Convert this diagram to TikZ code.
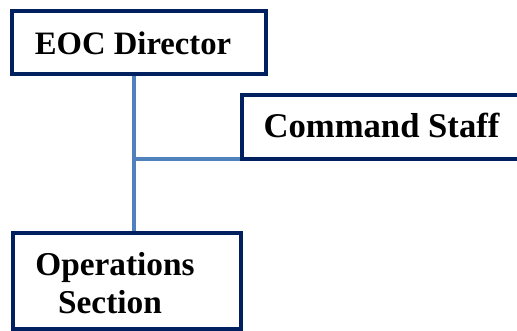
\documentclass[tikz,border=0pt]{standalone}
\usepackage{fontspec}
\setmainfont{Liberation Serif}
\usetikzlibrary{backgrounds}
\definecolor{navy}{RGB}{0,32,96}
\definecolor{linkblue}{RGB}{79,129,189}
\begin{document}
\begin{tikzpicture}[x=0.75pt,y=-0.75pt,
  box/.style={draw=navy, line width=3pt, fill=white, inner sep=0pt, outer sep=0pt},
  link/.style={draw=linkblue, line width=2.5pt},
  caption/.style={anchor=base, inner sep=0pt, text=black}]
\useasboundingbox (0,0) rectangle (517,331);
\clip (0,0) rectangle (517,331);

% boxes
\node[box, minimum width=190.5pt, minimum height=47.25pt] (eoc) at (139,42.5) {};
\node[box, minimum width=238.5pt, minimum height=48pt] (cmd) at (401,127) {};
\node[box, minimum width=171pt, minimum height=72pt] (ops) at (127,281) {};

% labels
\node[caption, font=\fontsize{24.5}{28}\selectfont\bfseries] (eoctext) at (133,55) {EOC Director};
\node[caption, font=\fontsize{26}{30}\selectfont\bfseries] (cmdtext) at (381.5,138) {Command Staff};
\node[caption, font=\fontsize{25}{29}\selectfont\bfseries] (opstext1) at (115,275) {Operations};
\node[caption, font=\fontsize{25}{29}\selectfont\bfseries] (opstext2) at (110,313) {Section};

% connectors
\coordinate (spine) at (134,159);
\begin{scope}[on background layer]
  \draw[link] (spine |- eoc.south) -- (spine |- ops.north);
  \draw[link] (spine) -- (cmd.south west);
\end{scope}
\end{tikzpicture}
\end{document}
